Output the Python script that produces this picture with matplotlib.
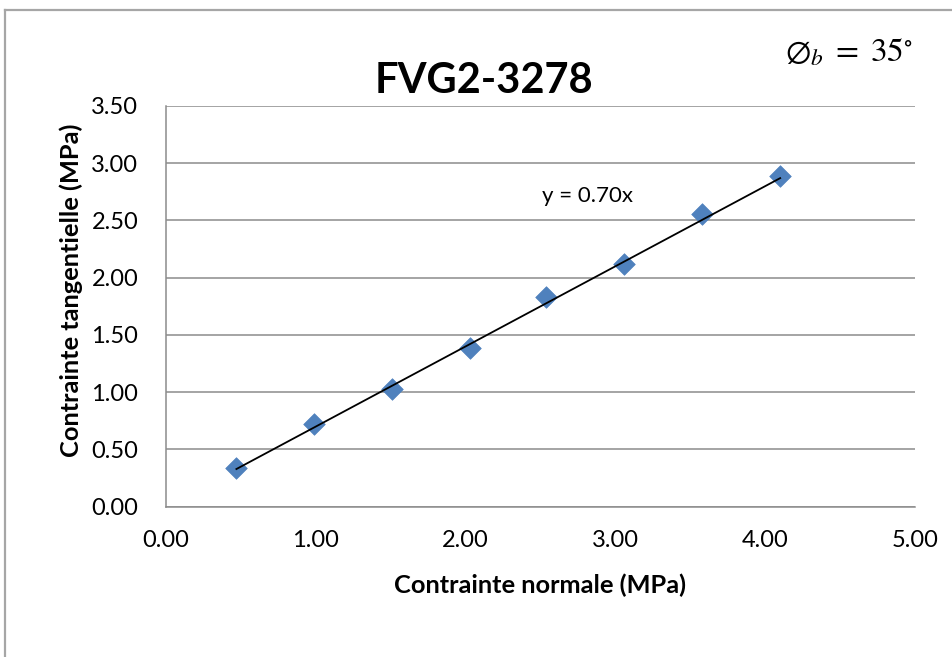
import numpy as np
import matplotlib
matplotlib.use("Agg")
import matplotlib.pyplot as plt
from matplotlib.lines import Line2D

# ---- data ----
normal_stress = [0.47, 0.99, 1.51, 2.03, 2.54, 3.06, 3.58, 4.10]
shear_stress = [0.34, 0.72, 1.03, 1.39, 1.83, 2.12, 2.56, 2.89]
trend_slope = 0.70
x_ticks = [0, 1, 2, 3, 4, 5]
y_ticks = [0, 0.5, 1.0, 1.5, 2.0, 2.5, 3.0, 3.5]
title = "FVG2-3278"
x_label = "Contrainte normale (MPa)"
y_label = "Contrainte tangentielle (MPa)"

plt.rcParams['font.family'] = ['Lato', 'DejaVu Sans']
plt.rcParams['mathtext.fontset'] = 'stix'

W, H = 952, 657
fig = plt.figure(figsize=(W / 100, H / 100), dpi=100)
fig.patch.set_facecolor('white')

# outer chart border
border_col = '#A6A6A6'
fig.add_artist(Line2D([5 / W, 5 / W], [0, 1 - 10 / H], color=border_col, lw=1.6))
fig.add_artist(Line2D([5 / W, 1], [1 - 10 / H, 1 - 10 / H], color=border_col, lw=1.6))

left, right, top, bottom = 166, 915, 106, 506.7
ax = fig.add_axes([left / W, 1 - bottom / H, (right - left) / W, (bottom - top) / H])

x = np.array(normal_stress)
y = np.array(shear_stress)
ax.scatter(x, y, marker='D', s=11 ** 2, color='#4F81BD', edgecolors='#4F81BD',
           linewidths=0.5, zorder=3)

# linear trend line through origin
xl = np.array([x.min(), x.max()])
ax.plot(xl, trend_slope * xl, color='black', lw=1.3, zorder=4)

ax.set_xlim(0, 5)
ax.set_ylim(0, 3.5)
ax.set_xticks(x_ticks)
ax.set_yticks(y_ticks)
ax.set_xticklabels([f"{v:.2f}" for v in x_ticks])
ax.set_yticklabels([f"{v:.2f}" for v in y_ticks])
ax.tick_params(axis='both', length=0, labelsize=17, colors='black')
ax.tick_params(axis='x', pad=17)
ax.tick_params(axis='y', pad=20)

ax.grid(axis='y', color='#8C8C8C', lw=1.1)
ax.set_axisbelow(True)
for s in ['top', 'right']:
    ax.spines[s].set_visible(False)
for s in ['left', 'bottom']:
    ax.spines[s].set_color('#8C8C8C')
    ax.spines[s].set_linewidth(1.1)

ax.set_xlabel(x_label, fontsize=18.3, fontweight='bold')
ax.set_ylabel(y_label, fontsize=18.3, fontweight='bold')
ax.xaxis.label.set_va('center')
ax.yaxis.label.set_va('center')
ax.xaxis.set_label_coords(0.5, (bottom - 585) / (bottom - top))
ax.yaxis.set_label_coords((71 - left) / (right - left), (bottom - 290) / (bottom - top))

fig.text(484 / W, 1 - 93 / H, title, ha='center', va='baseline', fontsize=30,
         fontweight='bold')
fig.text(785 / W, 1 - 62 / H, r'$\emptyset_b\;=\;35^{\circ}$', ha='left', va='baseline',
         fontsize=24)
fig.text(542 / W, 1 - 201.7 / H, f"y = {trend_slope:.2f}x", ha='left', va='baseline',
         fontsize=16)

fig.savefig('out.png', dpi=100, facecolor='white')
